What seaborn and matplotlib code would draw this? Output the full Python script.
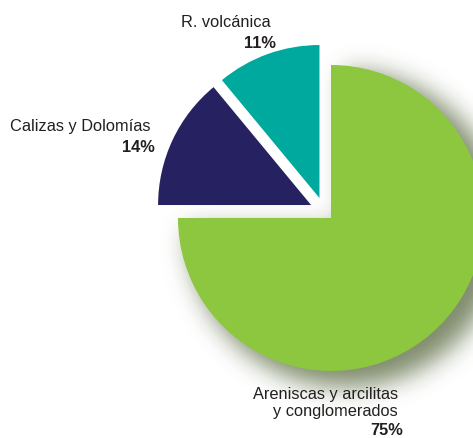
import matplotlib
matplotlib.use("Agg")
import matplotlib.pyplot as plt
import seaborn as sns
import numpy as np

sns.set_theme(style="white")
plt.rcParams['font.family'] = ['Liberation Sans', 'DejaVu Sans']

# Data
categories = ["R. volcánica", "Calizas y Dolomías", "Areniscas y arcilitas\ny conglomerados"]
values = [11, 14, 75]
pct_labels = ["11%", "14%", "75%"]
colors = ["#00A99D", "#262261", "#8DC63F"]

W, H = 473, 439
fig = plt.figure(figsize=(W / 100, H / 100), dpi=100)
ax = fig.add_axes([0, 0, 1, 1])

cx, cy = 324.2, H - 212.2
R = 153
explode = [14, 14.5, 9.6]   # offsets in data units (pixels)

# ---- soft blurred drop shadow behind the big slice (decoration) ----
pad = 100
xs = np.arange(-pad, W + pad) + 0.5
ys = np.arange(-pad, H + pad) + 0.5
X, Y = np.meshgrid(xs, ys)
ang = np.deg2rad(315)
gx = cx + explode[2] * np.cos(ang) + 15
gy = cy + explode[2] * np.sin(ang) - 11
dx, dy = X - gx, Y - gy
mask = ((dx**2 + dy**2) <= (R + 5) ** 2) & ~((dx < 0) & (dy > 0))
mask = mask.astype(float)
sigma = 12.0
k = np.arange(-45, 46)
kern = np.exp(-0.5 * (k / sigma) ** 2)
kern /= kern.sum()
blur = np.apply_along_axis(lambda r: np.convolve(r, kern, mode='same'), 1, mask)
blur = np.apply_along_axis(lambda c: np.convolve(c, kern, mode='same'), 0, blur)
rgba = np.zeros(blur.shape + (4,))
rgba[..., 0] = 0.36
rgba[..., 1] = 0.42
rgba[..., 2] = 0.26
rgba[..., 3] = np.clip(blur * 0.78, 0, 1)
ax.imshow(rgba, extent=[-pad, W + pad, -pad, H + pad], origin='lower',
          interpolation='bilinear', zorder=0)

ax.pie(values, colors=colors, radius=R, center=(cx, cy), explode=explode,
       startangle=90, counterclock=True, wedgeprops=dict(linewidth=0, zorder=2),
       frame=True)
ax.set_xlim(0, W)
ax.set_ylim(0, H)
ax.set_aspect('equal')
ax.axis('off')

fs = 11.8
txt = "#231F20"
ax.text(271, H - 22, categories[0], ha='right', va='center', fontsize=fs, color=txt)
ax.text(276, H - 43, pct_labels[0], ha='right', va='center', fontsize=fs, fontweight='bold', color=txt)
ax.text(150, H - 126, categories[1], ha='right', va='center', fontsize=fs, color=txt)
ax.text(155, H - 147, pct_labels[1], ha='right', va='center', fontsize=fs, fontweight='bold', color=txt)
ax.text(398, H - 403, categories[2], ha='right', va='center', fontsize=fs, color=txt,
        linespacing=1.22)
ax.text(403, H - 431, pct_labels[2], ha='right', va='center', fontsize=fs, fontweight='bold', color=txt)

fig.savefig("out.png", dpi=100)
